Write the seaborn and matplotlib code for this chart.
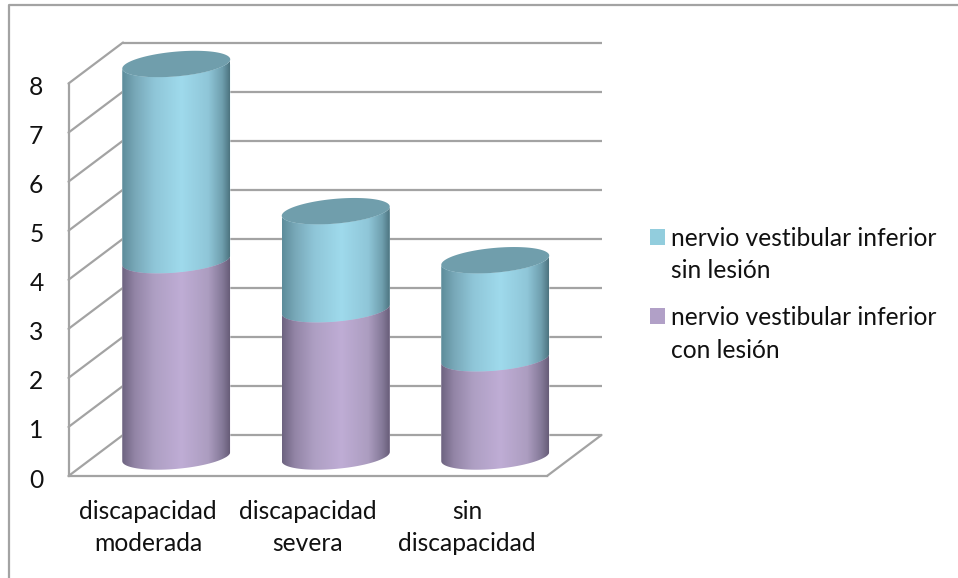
import numpy as np
import pandas as pd
import matplotlib
matplotlib.use("Agg")
import matplotlib.pyplot as plt
import seaborn as sns
from matplotlib.lines import Line2D
from matplotlib.patches import Patch, PathPatch
from matplotlib.path import Path
from matplotlib.transforms import Affine2D, IdentityTransform

categories = ["discapacidad\nmoderada", "discapacidad\nsevera", "sin\ndiscapacidad"]
con_lesion = [4, 3, 2]
sin_lesion = [4, 2, 2]
label_sin = "nervio vestibular inferior\nsin lesión"
label_con = "nervio vestibular inferior\ncon lesión"
yticks = [0, 1, 2, 3, 4, 5, 6, 7, 8]

W, H = 958, 578
sns.set_theme(style="white")
plt.rcParams["font.family"] = ["Lato", "DejaVu Sans"]
FS = 17.7
GRID = "#a3a3a3"
TXT = "#111111"

fig = plt.figure(figsize=(W / 100, H / 100), dpi=100, facecolor="white")
ax = fig.add_axes([68.5 / W, 1 - 476 / H, 478.5 / W, 392.5 / H])

total = [a + b for a, b in zip(con_lesion, sin_lesion)]
df = pd.DataFrame({"cat": categories, "total": total, "con": con_lesion})
BW = 108 / 159.5
sns.barplot(data=df, x="cat", y="total", color="#9dd8ea", width=BW, saturation=1, ax=ax, zorder=2)
n_top = len(ax.patches)
sns.barplot(data=df, x="cat", y="con", color="#bfadd4", width=BW, saturation=1, ax=ax, zorder=2)
ax.set_xlim(-0.5, 2.5)
ax.set_ylim(0, 8)
ax.set_yticks(yticks)
ax.set_xlabel("")
ax.set_ylabel("")
fig.canvas.draw()

# depth offsets of the pseudo-3D plot, in pixels
bar_off = Affine2D().translate(28, 19.5)
wall_off = Affine2D().translate(54.5, 41)

# back wall and depth lines
glw = 1.6
for v in yticks:
    ax.plot([0, 1], [v, v], transform=ax.get_yaxis_transform() + wall_off, color=GRID, lw=glw,
            clip_on=False, zorder=1, solid_capstyle="butt")
    p0 = ax.get_yaxis_transform().transform((0, v))
    ax.add_line(Line2D([p0[0], p0[0] + 54.5], [p0[1], p0[1] + 41], transform=IdentityTransform(),
                       color=GRID, lw=glw, clip_on=False, zorder=1))
p1 = ax.get_yaxis_transform().transform((1, 0))
ax.add_line(Line2D([p1[0], p1[0] + 54.5], [p1[1], p1[1] + 41], transform=IdentityTransform(),
                   color=GRID, lw=glw, clip_on=False, zorder=1))

A, B, K = 54.0, 12.4, 4.6
tt = np.linspace(np.pi, 2 * np.pi, 60)
def arc(cx, cy, t):
    return np.c_[cx + A * np.cos(t), cy + B * np.sin(t) + K * np.cos(t)]

def gradient(stops):
    pos = [s[0] for s in stops]
    rgb = np.array([matplotlib.colors.to_rgb(s[1]) for s in stops])
    xs = np.linspace(0, 1, 256)
    return np.stack([np.interp(xs, pos, rgb[:, i]) for i in range(3)], axis=-1)[None, :, :]

g_sin = gradient([(0, "#5d8c9a"), (0.12, "#78a8b8"), (0.3, "#8fc6d8"), (0.55, "#9fdaec"), (0.8, "#8fc6d8"), (0.93, "#6f9fae"), (1, "#4d7480")])
g_con = gradient([(0, "#6d6380"), (0.12, "#9385a6"), (0.3, "#ae9fc3"), (0.55, "#bfadd5"), (0.8, "#ac9dc0"), (0.93, "#857a99"), (1, "#675d78")])

def shade(patch, low, high, grad, cap):
    patch.set_transform(ax.transData + bar_off)
    x0 = patch.get_x()
    x1 = x0 + patch.get_width()
    cxdata = (x0 + x1) / 2
    to_px = ax.transData + bar_off
    cx, cy0 = to_px.transform((cxdata, low))
    _, cy1 = to_px.transform((cxdata, high))
    lower = arc(cx, cy0, tt)
    upper = arc(cx, cy1, tt[::-1])
    verts = np.r_[lower, upper, lower[:1]]
    clip = Path(verts, closed=True)
    patch.set_clip_box(None)
    patch.set_clip_path(clip, IdentityTransform())
    im = ax.imshow(grad, extent=(x0, x1, low - 0.5, high + 0.5), aspect="auto", interpolation="bilinear",
                   transform=to_px, zorder=3)
    im.set_clip_box(fig.bbox)
    im.set_clip_path(clip, IdentityTransform())
    if cap:
        circ = np.c_[np.cos(np.linspace(0, 2 * np.pi, 100)), np.sin(np.linspace(0, 2 * np.pi, 100))]
        ring = np.c_[cx + A * circ[:, 0], cy1 + B * circ[:, 1] + K * circ[:, 0]]
        ax.add_patch(PathPatch(Path(ring, closed=True), transform=IdentityTransform(), facecolor="#709eac",
                               edgecolor="none", clip_on=False, zorder=4))

patches = list(ax.patches)
for i in range(3):
    shade(patches[i], con_lesion[i], total[i], g_sin, True)
    shade(patches[n_top + i], 0, con_lesion[i], g_con, False)

ax.set_xlim(-0.5, 2.5)
ax.set_ylim(0, 8)

for s in ["top", "right"]:
    ax.spines[s].set_visible(False)
for s in ["left", "bottom"]:
    ax.spines[s].set_color(GRID)
    ax.spines[s].set_linewidth(glw)
ax.patch.set_alpha(0)
ax.tick_params(axis="y", length=0, pad=18, labelsize=FS, labelcolor=TXT)
ax.tick_params(axis="x", length=0, pad=17.5, labelsize=FS, labelcolor=TXT)
for t in ax.get_xticklabels():
    t.set_linespacing(1.48)
for t in ax.get_yticklabels():
    t.set_verticalalignment("center")
    t.set_transform(t.get_transform() + Affine2D().translate(0, -4))

# legend
handles = [Patch(facecolor="#92cddd", edgecolor="none", label=label_sin),
           Patch(facecolor="#b1a0c7", edgecolor="none", label=label_con)]
leg = fig.legend(handles=handles, loc="upper left", bbox_to_anchor=(650 / W, 1 - 227 / H),
                 bbox_transform=fig.transFigure, frameon=False, fontsize=FS, borderpad=0, borderaxespad=0,
                 handlelength=0.61, handleheight=0.61, handletextpad=0.25, labelspacing=0.96, labelcolor=TXT)
for t in leg.get_texts():
    t.set_linespacing(1.5)
for h in leg.legend_handles:
    h.set_y(h.get_y() + 13.5)

# chart frame
fc = "#a3a3a3"
fig.add_artist(Line2D([8.5 / W, 8.5 / W, 1], [0, 1 - 5 / H, 1 - 5 / H], transform=fig.transFigure, color=fc, lw=1.6))

fig.savefig("out.png", dpi=100, facecolor="white")
